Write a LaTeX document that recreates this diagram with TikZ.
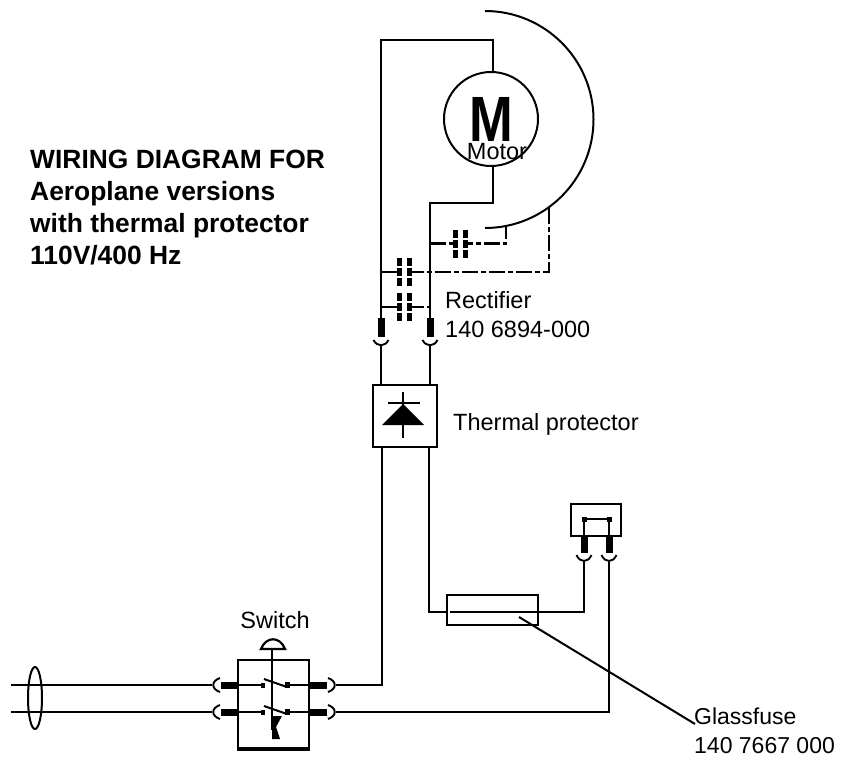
\documentclass[tikz,border=0pt]{standalone}
\usepackage{fontspec}
\setmainfont{Liberation Sans}
\usetikzlibrary{shapes.geometric}

\tikzset{
  wire/.style={line width=2pt},
  box/.style={draw,line width=2pt,inner sep=0pt,minimum height=#1},
  pin/.style={line width=7pt},
  cup/.style={line width=1.9pt},
  shield/.style={line width=2.2pt,dash pattern=on 16pt off 3pt on 5pt off 3pt},
  plate/.style={line width=5pt,dash pattern=on 8pt off 2pt},
  lab/.style={anchor=base west,inner sep=0pt,font=\fontsize{23.5}{28}\selectfont},
  head/.style={anchor=base west,inner sep=0pt,font=\fontsize{26.4}{30}\selectfont\bfseries}
}

\begin{document}
\begin{tikzpicture}[x=1pt,y=-1pt]

  \useasboundingbox (0,0) rectangle (843,760);

  \node [draw,wire,circle,inner sep=0pt,minimum size=94pt] (motor) at (491,119) {};
  \node [inner sep=0pt,xscale=0.82,font=\fontsize{64}{64}\selectfont\bfseries] (mletter) at (491,119) {M};
  \node [inner sep=0pt,font=\fontsize{23.5}{24}\selectfont] (mlabel) at (497,152) {Motor};

  \node [box=62pt,minimum width=64pt] (rect) at (405,416) {};
  \node [box=30pt,minimum width=91pt] (fuse) at (492.5,610) {};
  \node [box=32pt,minimum width=50pt] (link) at (596,520) {};
  \node [box=88pt,minimum width=71pt] (switch) at (273.5,704) {};

  % motor and field winding
  \draw [wire] (485,11) arc (-90:90:108.5);
  \draw [wire] (motor.north -| 493,0) -- (493,40) -- (381,40) -- (381,318);
  \draw [wire] (motor.south -| 493,0) -- (493,203) -- (430,203) -- (430,318);

  % suppressor capacitors
  \coordinate (capa) at (460.5,243.5);
  \coordinate (capb) at (404,272);
  \coordinate (capc) at (404,307);
  \draw [shield] (430,243.5) -- (capa) -- (506,243.5) -- (506,226);
  \draw [shield] (381,272) -- (capb) -- (549,272) -- (549,207);
  \draw [shield] (381,307) -- (capc) -- (430,307);
  \foreach \c in {capa,capb,capc} {
    \fill [white] ([shift={(-2.5,-14)}]\c) rectangle ([shift={(2.5,14)}]\c);
    \draw [plate] ([shift={(-5,-14)}]\c) -- ([shift={(-5,15)}]\c);
    \draw [plate] ([shift={(5,-14)}]\c) -- ([shift={(5,15)}]\c);
  }

  % plugs above rectifier
  \foreach \x in {381,430} {
    \draw [pin] (\x,318) -- (\x,337);
    \draw [cup] (\x-7.5,340) .. controls (\x-4,347) and (\x+4,347) .. (\x+7.5,340);
    \draw [wire] (\x,345) -- (\x,385);
  }
  \node [lab] (rectifier) at (445,308) {Rectifier};
  \node [lab] (rectno) at (445,337) {140 6894-000};

  % rectifier symbol
  \draw [wire] (403,392) -- (403,438);
  \draw [wire] (388,403) -- (420,403);
  \fill (403,404) -- (424,425) -- (382,425) -- cycle;
  \node [lab] (thermal) at (453,430) {Thermal protector};

  % down to switch and fuse
  \draw [wire] (381.5,447) -- (381.5,685) -- (336,685);
  \draw [wire] (429,447) -- (429,612) -- (447,612);
  \draw [wire] (450,612) -- (538,612) -- (584,612) -- (584,562);
  \draw [wire] (609,562) -- (609,712) -- (336,712);

  % jumper plug
  \foreach \x in {584,609} {
    \draw [pin] (\x,535) -- (\x,553);
    \draw [cup] (\x-7.5,555) .. controls (\x-4,563) and (\x+4,563) .. (\x+7.5,555);
    \draw [wire] (\x,519) -- (\x,535);
    \fill (\x-2.5,516.5) rectangle (\x+2.5,521.5);
  }
  \draw [wire] (584,519) -- (609,519);

  % fuse leader
  \coordinate (leader) at (695,724);
  \draw [wire] (519,617) -- (leader);
  \node [lab,font=\fontsize{23}{28}\selectfont] (glass) at (694,724) {Glassfuse};
  \node [lab,font=\fontsize{23}{28}\selectfont] (glassno) at (694,753) {140 7667 000};

  % cable and shield
  \draw [wire] (11,685) -- (212,685);
  \draw [wire] (11,712) -- (212,712);
  \draw [wire] (35,698) ellipse (7 and 31);

  % switch
  \node [inner sep=0pt,font=\fontsize{23.5}{24}\selectfont] (swlabel) at (275,620) {Switch};
  \draw [line width=3pt] (switch.south west) -- (switch.south east);
  \draw [wire] (272,650) -- (272,730);
  \draw [line width=2.2pt,fill=white] (261,649) .. controls (266,636) and (280,636) .. (285,649) -- cycle;
  \fill (272,716) -- (282,716) -- (276,727) -- (280,739) -- (272,739) -- cycle;
  \foreach \y in {685,712} {
    \draw [cup] (220,\y-7) .. controls (211,\y-4) and (211,\y+4) .. (220,\y+7);
    \draw [cup] (328,\y-7) .. controls (337,\y-4) and (337,\y+4) .. (328,\y+7);
    \draw [pin] (221,\y) -- (238,\y);
    \draw [pin] (309,\y) -- (327,\y);
    \draw [line width=1.8pt] (238,\y) -- (262,\y);
    \draw [line width=1.8pt] (287,\y) -- (309,\y);
    \fill (261,\y-2.5) rectangle (265,\y+2.5);
    \fill (285,\y-3) rectangle (290,\y+3);
    \draw [wire] (264,\y-6) -- (287,\y+2);
  }

  \node [head] (t1) at (30,168) {WIRING DIAGRAM FOR};
  \node [head] (t2) at (30,200) {Aeroplane versions};
  \node [head] (t3) at (30,232) {with thermal protector};
  \node [head] (t4) at (30,264) {110V/400 Hz};

\end{tikzpicture}
\end{document}
